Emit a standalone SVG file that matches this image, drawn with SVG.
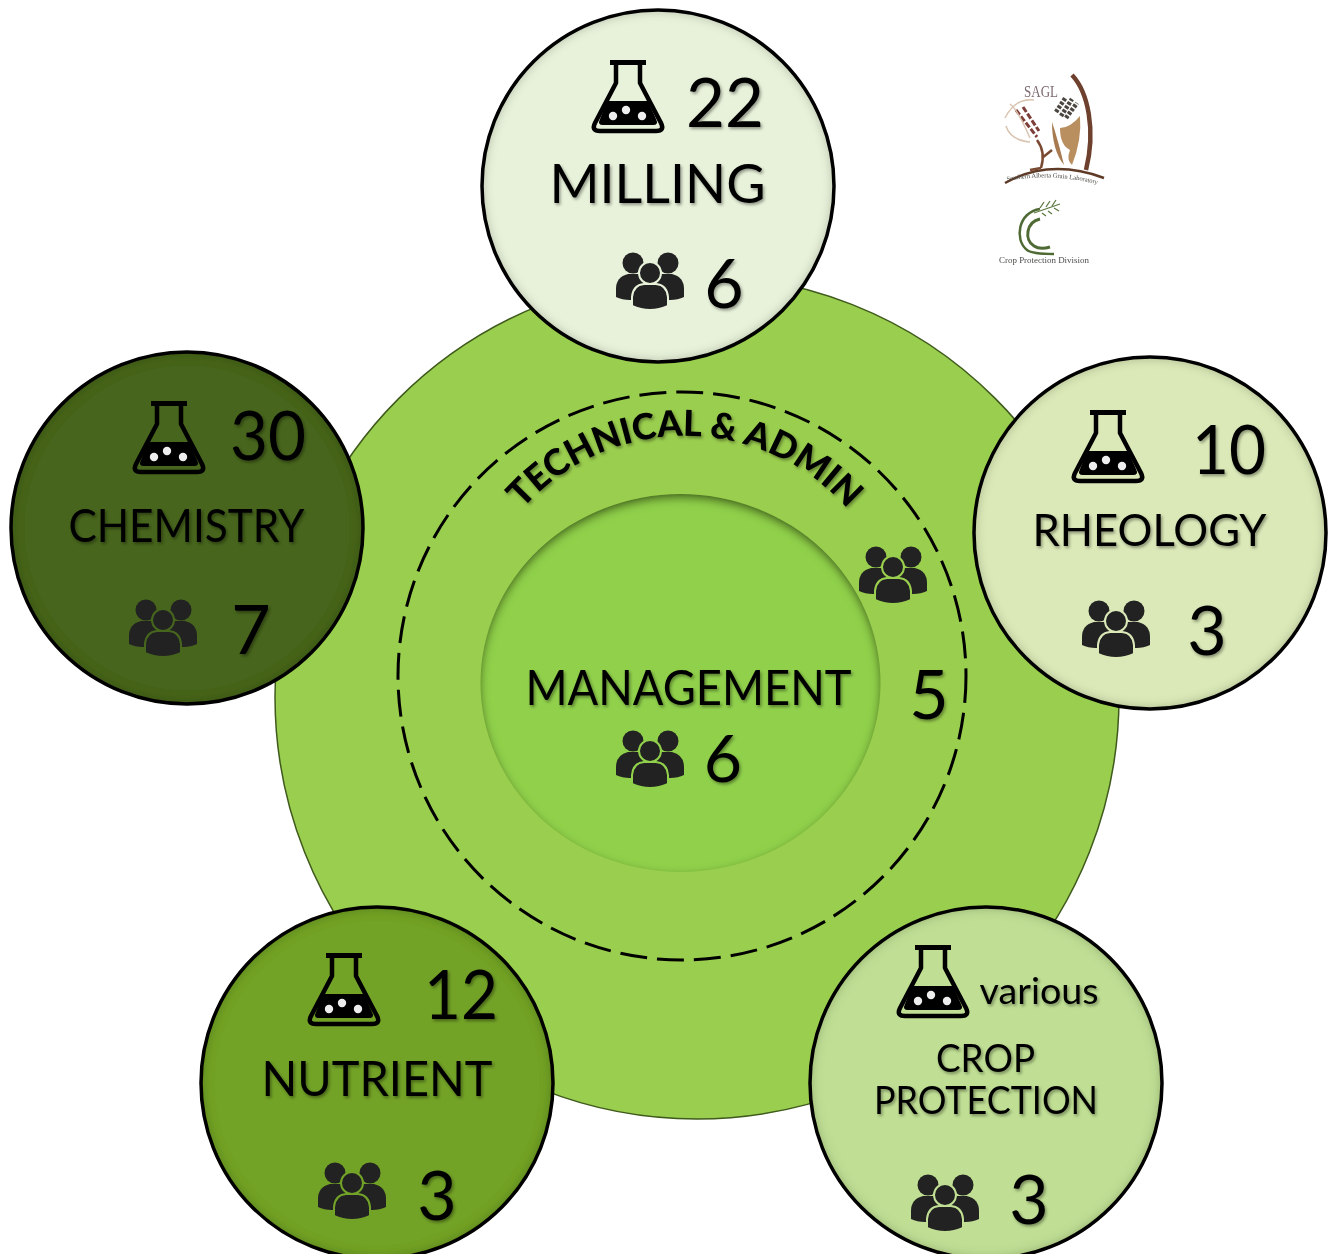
<svg xmlns="http://www.w3.org/2000/svg" width="1330" height="1254" viewBox="0 0 1330 1254">
<style>
.t{font-family:Lato,"Liberation Sans",sans-serif;fill:#050505;filter:url(#soft)}
.num{font-size:68px}
.lab{font-size:50px}
.edge{fill:none;stroke:#000;stroke-width:3.5}
.person{fill:#222}
.serif{font-family:"Liberation Serif",serif}
</style>
<defs>
<filter id="soft" x="-15%" y="-15%" width="130%" height="130%"><feDropShadow dx="1.5" dy="2" stdDeviation="1.5" flood-color="#000" flood-opacity=".38"/></filter>
<filter id="inset" x="-8%" y="-8%" width="116%" height="116%">
<feFlood flood-color="#1c2410" flood-opacity=".6"/><feComposite in2="SourceAlpha" operator="out"/><feGaussianBlur stdDeviation="6"/><feComposite in2="SourceAlpha" operator="in" result="s"/>
<feMerge><feMergeNode in="SourceGraphic"/><feMergeNode in="s"/></feMerge></filter>
<filter id="insetTop" x="-8%" y="-8%" width="116%" height="116%">
<feFlood flood-color="#2a4208" flood-opacity=".95"/><feComposite in2="SourceAlpha" operator="out"/><feGaussianBlur stdDeviation="5"/><feOffset dy="4"/><feComposite in2="SourceAlpha" operator="in" result="s"/>
<feMerge><feMergeNode in="SourceGraphic"/><feMergeNode in="s"/></feMerge></filter>
<filter id="blurLogo" x="-5%" y="-5%" width="110%" height="110%"><feGaussianBlur stdDeviation=".55"/></filter>
<g id="flask">
<path d="M-12 3V23L-33 63Q-37 71-28 71H28Q37 71 33 63L12 23V3" fill="none" stroke="#000" stroke-width="4.5" stroke-linejoin="round"/>
<rect x="-18" y="0" width="36" height="5" fill="#000"/>
<path d="M-21 41H20L28 59Q31 65 25 65H-25Q-31 65-28 59Z" fill="#000"/>
<circle cx="-15" cy="56" r="4.2" fill="#eee"/><circle cx="-2" cy="50" r="4.2" fill="#eee"/><circle cx="14" cy="56" r="4.2" fill="#eee"/>
</g>
<g id="people">
<circle cx="-17" cy="10" r="10.500" class="person"/><circle cx="18" cy="10" r="10.500" class="person"/>
<path d="M-34 44V36Q-34 24-22 21H16V47H-20Q-28 47-34 44Z" class="person"/>
<path d="M34 44V36Q34 24 22 21H-16V47H20Q28 47 34 44Z" class="person"/>
<circle cx="0" cy="20" r="11" class="person" stroke="currentColor" stroke-width="2"/>
<path d="M-18 53V44Q-17 32-6 31H6Q17 32 18 44V53Q0 61-18 53Z" class="person" stroke="currentColor" stroke-width="2"/>
</g>
</defs>
<rect width="1330" height="1254" fill="#fff"/>

<g id="outer-ring">
<circle cx="697" cy="697" r="422" fill="#9ace4e" stroke="#3f5a1c" stroke-width="1.5"/>
</g>
<g id="management">
<ellipse cx="680.500" cy="683" rx="200" ry="189" fill="#90d04b" filter="url(#insetTop)"/>
<text class="t lab" x="688.500" y="705" text-anchor="middle" textLength="326" lengthAdjust="spacingAndGlyphs" style="font-size:49px">MANAGEMENT</text>
<use href="#people" x="650" y="731" color="#90d04b"/>
<text class="t num" x="723" y="782" text-anchor="middle" style="font-size:66px">6</text>
</g>
<g id="technical-admin">
<circle cx="682" cy="676" r="284" fill="none" stroke="#000" stroke-width="3" stroke-dasharray="27 10"/>
<path id="arc" d="M497 544.500A217 217 0 0 1 873 544.500" fill="none"/>
<text class="t" style="font-size:36px;font-weight:900" text-anchor="middle"><textPath href="#arc" startOffset="50%">TECHNICAL &amp; ADMIN</textPath></text>
<use href="#people" x="893" y="547" color="#9ace4e"/>
<text class="t num" x="929" y="719" text-anchor="middle">5</text>
</g>

<g id="milling">
<circle cx="658" cy="186" r="176" fill="#e8f2da" filter="url(#inset)"/><circle cx="658" cy="186" r="176" class="edge"/>
<use href="#flask" x="628" y="60"/>
<text class="t num" x="725" y="127" text-anchor="middle" textLength="78" lengthAdjust="spacingAndGlyphs">22</text>
<text class="t lab" x="657.500" y="203" text-anchor="middle" textLength="216" lengthAdjust="spacingAndGlyphs" style="font-size:54px">MILLING</text>
<use href="#people" x="650" y="253" color="#e8f2da"/>
<text class="t num" x="724" y="308" text-anchor="middle">6</text>
</g>
<g id="chemistry">
<circle cx="187" cy="528" r="176" fill="#46651d" filter="url(#inset)"/><circle cx="187" cy="528" r="176" class="edge"/>
<use href="#flask" x="169" y="401"/>
<text class="t num" x="268" y="460" text-anchor="middle" textLength="76" lengthAdjust="spacingAndGlyphs">30</text>
<text class="t lab" x="186.500" y="542" text-anchor="middle" textLength="236" lengthAdjust="spacingAndGlyphs" style="font-size:46px">CHEMISTRY</text>
<use href="#people" x="163" y="600" color="#46651d"/>
<text class="t num" x="251" y="654" text-anchor="middle">7</text>
</g>
<g id="rheology">
<circle cx="1150" cy="533" r="176" fill="#dbe9b8" filter="url(#inset)"/><circle cx="1150" cy="533" r="176" class="edge"/>
<use href="#flask" x="1108" y="410"/>
<text class="t num" x="1229" y="474" text-anchor="middle" textLength="74" lengthAdjust="spacingAndGlyphs">10</text>
<text class="t lab" x="1149.500" y="546" text-anchor="middle" textLength="234" lengthAdjust="spacingAndGlyphs" style="font-size:44px">RHEOLOGY</text>
<use href="#people" x="1116" y="601" color="#dbe9b8"/>
<text class="t num" x="1207" y="655" text-anchor="middle">3</text>
</g>
<g id="nutrient">
<circle cx="377" cy="1083" r="176" fill="#72a228" filter="url(#inset)"/><circle cx="377" cy="1083" r="176" class="edge"/>
<use href="#flask" x="344" y="953"/>
<text class="t num" x="461" y="1019" text-anchor="middle" textLength="74" lengthAdjust="spacingAndGlyphs">12</text>
<text class="t lab" x="377" y="1096" text-anchor="middle" textLength="231" lengthAdjust="spacingAndGlyphs" style="font-size:49px">NUTRIENT</text>
<use href="#people" x="352" y="1163" color="#72a228"/>
<text class="t num" x="437" y="1220" text-anchor="middle">3</text>
</g>
<g id="crop-protection">
<circle cx="986" cy="1083" r="176" fill="#c0df94" filter="url(#inset)"/><circle cx="986" cy="1083" r="176" class="edge"/>
<use href="#flask" x="933" y="945"/>
<text class="t" x="1039" y="1004" text-anchor="middle" textLength="119" lengthAdjust="spacingAndGlyphs" style="font-size:36px">various</text>
<text class="t" x="985.500" y="1072" text-anchor="middle" textLength="99" lengthAdjust="spacingAndGlyphs" style="font-size:38px">CROP</text>
<text class="t" x="986" y="1114" text-anchor="middle" textLength="224" lengthAdjust="spacingAndGlyphs" style="font-size:38px">PROTECTION</text>
<use href="#people" x="945" y="1175" color="#c0df94"/>
<text class="t num" x="1029" y="1224" text-anchor="middle">3</text>
</g>

<g id="logo-sagl" filter="url(#blurLogo)">
<text class="serif" x="1024" y="97" font-size="16" fill="#7d6a70" textLength="34" lengthAdjust="spacingAndGlyphs">SAGL</text>
<path d="M1072 75C1088 92 1096 130 1086 170" fill="none" stroke="#6e3f2d" stroke-width="4.500"/>
<path d="M1005 183Q1050 158 1104 178" fill="none" stroke="#5e3a28" stroke-width="2.500"/>
<path d="M1037 140Q1046 152 1041 168M1042 158L1052 150M1041 168L1030 170" fill="none" stroke="#7a4a32" stroke-width="2.500"/>
<path d="M1052 122Q1058 140 1064 165Q1052 150 1052 122Z" fill="#a77a50"/>
<path d="M1060 128Q1070 128 1080 116Q1082 140 1072 165Q1066 160 1070 150Q1060 145 1060 128Z" fill="#b98f5f"/>
<path d="M1056 112L1066 97M1061 116L1072 99M1066 118L1077 103" stroke="#4b4640" stroke-width="4.500" stroke-dasharray="3 1.500"/>
<path d="M1016 110L1037 137M1023 107L1039 131" stroke="#7d3e37" stroke-width="3" stroke-dasharray="6 2"/>
<path d="M1005 118Q1015 98 1034 100M1006 126Q1010 140 1030 142M1010 104Q1018 110 1030 138" fill="none" stroke="#d9c4b0" stroke-width="1.500"/>
<path id="sagl-cap" d="M1007 181Q1055 172 1104 186" fill="none"/>
<text class="serif" font-size="6.500" fill="#4a4a42"><textPath href="#sagl-cap">Southern Alberta Grain Laboratory</textPath></text>
</g>
<g id="logo-crop" filter="url(#blurLogo)">
<path d="M1040 209C1018 212 1014 240 1027 250Q1032 254 1054 254" fill="none" stroke="#4f6b34" stroke-width="2.500"/>
<path d="M1040 219C1026 222 1024 240 1034 246Q1040 250 1050 247" fill="none" stroke="#4f6b34" stroke-width="3"/>
<path d="M1034 213L1060 204M1040 208L1044 202M1046 207L1050 201M1052 206L1056 200M1042 213L1046 216M1048 211L1052 214M1054 208L1059 211" fill="none" stroke="#5c7a42" stroke-width="1.300"/>
<text class="serif" x="999" y="263" font-size="8.500" fill="#4c4c46" textLength="90" lengthAdjust="spacingAndGlyphs">Crop Protection Division</text>
</g>
</svg>
